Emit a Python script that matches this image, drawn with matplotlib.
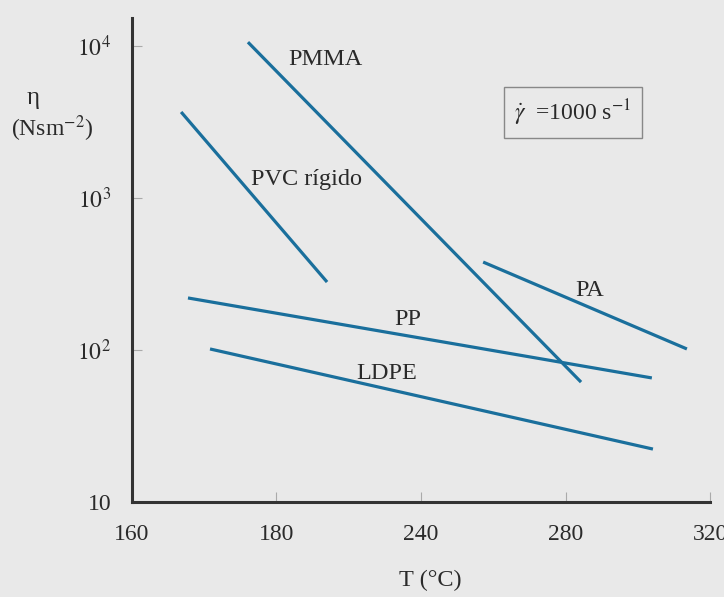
import numpy as np
import matplotlib.pyplot as plt

plt.rcParams['font.family'] = ['Liberation Serif', 'DejaVu Serif']
plt.rcParams['mathtext.fontset'] = 'stix'

# data (T in the axis' linear units, eta in N s m^-2)
materiais = ['PMMA', 'PVC rígido', 'PA', 'PP', 'LDPE']
temp_inicio = [192.1, 173.6, 257.2, 175.5, 181.6]
temp_fim = [284.3, 214.0, 313.6, 303.9, 304.2]
eta_inicio = [10600, 3680, 379, 220, 101.6]
eta_fim = [61.5, 280, 101.6, 65.5, 22.3]

# label placement (x, baseline y in data units)
rotulos_x = [213.4, 208.2, 286.8, 236.4, 230.6]
rotulos_y = [7500, 1220, 226, 146, 64.4]

xticks = [160, 200, 240, 280, 320]
xticklabels = ['160', '180', '240', '280', '320']
yticks = [10, 100, 1000, 10000]
yticklabels = ['10', r'$10^2$', r'$10^3$', r'$10^4$']

cor_linha = '#1a6f9c'
fundo = '#e9e9e9'
cor_texto = '#2a2a2a'

fig = plt.figure(figsize=(7.24, 5.97), dpi=100)
fig.patch.set_facecolor(fundo)
ax = fig.add_axes([0.1823, 0.1591, 0.7984, 0.8107])
ax.set_facecolor(fundo)

for i in range(len(materiais)):
    ax.plot([temp_inicio[i], temp_fim[i]], [eta_inicio[i], eta_fim[i]],
            color=cor_linha, lw=2.3, solid_capstyle='butt')
    ax.text(rotulos_x[i], rotulos_y[i], materiais[i], fontsize=17.5,
            ha='center', va='baseline', color=cor_texto)

ax.set_yscale('log')
ax.set_xlim(160, 320)
ax.set_ylim(10, 10 ** 4.184)
ax.set_xticks(xticks)
ax.set_xticklabels(xticklabels)
ax.set_yticks(yticks)
ax.set_yticklabels(yticklabels)
ax.minorticks_off()
ax.tick_params(axis='x', direction='in', length=7, color='#aaaaaa', pad=16,
               labelsize=17, labelcolor=cor_texto)
ax.tick_params(axis='y', direction='in', length=7, color='#aaaaaa', pad=15,
               labelsize=17, labelcolor=cor_texto)

for lado in ['top', 'right']:
    ax.spines[lado].set_visible(False)
for lado in ['left', 'bottom']:
    ax.spines[lado].set_color('#333333')
    ax.spines[lado].set_linewidth(2.2)

# axis labels
fig.text(430 / 724, 1 - 580 / 597, 'T (°C)', fontsize=17.5, ha='center',
         va='center', color=cor_texto)
fig.text(33 / 724, 1 - 98 / 597, 'η', fontsize=18, ha='center',
         va='center', color=cor_texto)
fig.text(52 / 724, 1 - 129 / 597, r'(Nsm$^{-2}$)', fontsize=17, ha='center',
         va='center', color=cor_texto)

# shear rate box
ax.text(0.763, 0.805, r'$\dot{\gamma}$  =1000 s$^{-1}$', transform=ax.transAxes,
        fontsize=17, ha='center', va='center', color=cor_texto,
        bbox=dict(boxstyle='square,pad=0.45', facecolor=fundo,
                  edgecolor='#888888', lw=1))

fig.savefig('out.png', dpi=100, facecolor=fundo)
